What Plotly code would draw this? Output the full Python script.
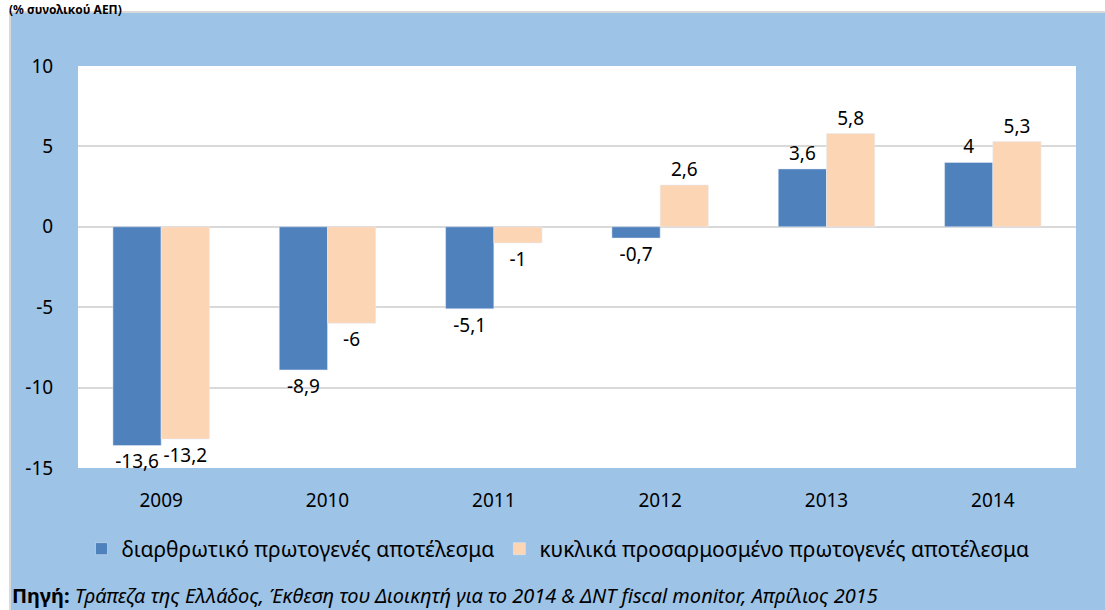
import plotly.graph_objects as go

years = ["2009", "2010", "2011", "2012", "2013", "2014"]
structural = [-13.6, -8.9, -5.1, -0.7, 3.6, 4.0]
cyclical = [-13.2, -6.0, -1.0, 2.6, 5.8, 5.3]
name_structural = "διαρθρωτικό πρωτογενές αποτέλεσμα"
name_cyclical = "κυκλικά προσαρμοσμένο πρωτογενές αποτέλεσμα"
y_ticks = [-15, -10, -5, 0, 5, 10]

def fmt(v):
    s = ("%g" % v)
    return s.replace(".", ",")

FONT = "Noto Sans"
W, H = 1105, 610
L, R, T, B = 78, 1076, 66, 468

def px(x):
    return (x - L) / (R - L)

def py(y):
    return (B - y) / (B - T)

fig = go.Figure()
fig.add_trace(go.Bar(x=years, y=structural, name=name_structural,
                     marker_color="#4F81BD", text=[fmt(v) for v in structural],
                     textposition="outside", cliponaxis=False, constraintext="none",
                     textfont=dict(size=19, color="#000000", family=FONT)))
fig.add_trace(go.Bar(x=years, y=cyclical, name=name_cyclical,
                     marker_color="#FCD5B5", text=[fmt(v) for v in cyclical],
                     textposition="outside", cliponaxis=False, constraintext="none",
                     textfont=dict(size=19, color="#000000", family=FONT)))

fig.update_layout(
    width=W, height=H,
    margin=dict(l=L, r=W - R, t=T, b=H - B),
    paper_bgcolor="white", plot_bgcolor="white",
    barmode="group", bargap=0.42, bargroupgap=0,
    font=dict(family=FONT, size=19, color="#000000"),
    showlegend=True,
    legend=dict(orientation="h", x=0.5 - 19 / (R - L), xanchor="center", y=py(549), yanchor="middle",
                font=dict(size=21, family=FONT), bgcolor="rgba(0,0,0,0)",
                itemwidth=30, tracegroupgap=0),
)
fig.update_yaxes(range=[-15, 10], tickvals=y_ticks, ticktext=[str(v) for v in y_ticks],
                 showgrid=True, gridcolor="#D9D9D9", gridwidth=1.5,
                 zeroline=True, zerolinecolor="#D9D9D9", zerolinewidth=1.5,
                 ticks="outside", ticklen=20, tickcolor="rgba(0,0,0,0)",
                 tickfont=dict(size=19), showline=False, fixedrange=True)
fig.update_xaxes(showgrid=False, ticks="outside", ticklen=15, tickcolor="rgba(0,0,0,0)",
                 tickfont=dict(size=19), showline=False)

# blue chart-area background with gray border
fig.add_shape(type="rect", xref="paper", yref="paper", layer="below",
              x0=px(10), x1=px(W + 5), y0=py(H + 5), y1=py(12),
              fillcolor="#9DC3E6", line=dict(color="#D9D9D9", width=2))
# white plot area
fig.add_shape(type="rect", xref="paper", yref="paper", layer="below",
              x0=0, x1=1, y0=0, y1=1, fillcolor="white", line=dict(width=0))

fig.add_annotation(xref="paper", yref="paper", x=px(8), y=py(0), xanchor="left",
                   yanchor="top", showarrow=False, borderpad=0,
                   text="<b>(% συνολικού ΑΕΠ)</b>", font=dict(size=12, family=FONT))
fig.add_annotation(xref="paper", yref="paper", x=px(10), y=py(595), xanchor="left",
                   yanchor="middle", showarrow=False,
                   text="<b>Πηγή:</b> <i>Τράπεζα της Ελλάδος, Έκθεση του Διοικητή για το 2014 &amp; ΔΝΤ fiscal monitor, Απρίλιος 2015</i>",
                   font=dict(size=20, family=FONT))

fig.write_html("out.html", config={"displayModeBar": False},
               post_script="document.body.style.margin='0';document.body.style.padding='0';")
